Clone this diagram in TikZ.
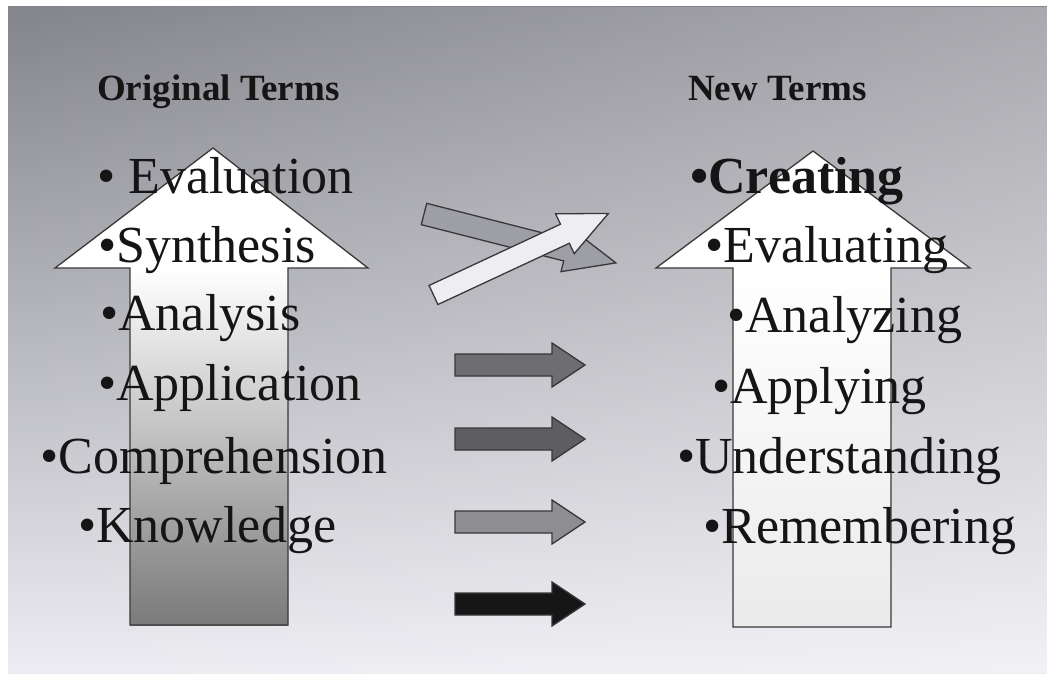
\documentclass[tikz,border=0pt]{standalone}
\usepackage{fontspec}
\setmainfont{Liberation Serif}
\usetikzlibrary{fadings}
\definecolor{bgtop}{HTML}{84848C}
\definecolor{bgmid}{HTML}{B6B6BE}
\definecolor{bgbot}{HTML}{ECECF2}
\definecolor{diaggray}{HTML}{9E9EA6}
\definecolor{diagwhite}{HTML}{EEEEF2}
\definecolor{arrA}{HTML}{6E6E72}
\definecolor{arrB}{HTML}{5E5E62}
\definecolor{arrC}{HTML}{8E8E92}
\definecolor{arrD}{HTML}{161616}
\definecolor{inktext}{HTML}{151515}
\begin{document}
\begin{tikzpicture}[x=1pt,y=-1pt,line join=miter,
  outl/.style={draw=black!78,line width=1.3pt},
  item/.style={anchor=base west,inner sep=0pt,font=\fontsize{52}{60}\selectfont,text=inktext},
  headtext/.style={anchor=base west,inner sep=0pt,font=\fontsize{37}{44}\selectfont\bfseries,text=inktext},
  harrowshape/.pic={\path[pic actions] (0,-11) -- (97,-11) -- (97,-22) -- (130,0) -- (97,22) -- (97,11) -- (0,11) -- cycle;}]
\useasboundingbox (0,0) rectangle (1047,673);
\fill[white] (0,0) rectangle (1047,673);
% background
\shade[top color=bgtop,middle color=bgmid,bottom color=bgbot] (8,6) rectangle (1047,673);
\fill[white,path fading=west,fill opacity=0.3] (8,6) rectangle (1047,673);

% left big arrow
\fill[white] (55,268) -- (213,148) -- (368,268) -- cycle;
\shade[top color=white,bottom color=black!52] (130,268) rectangle (288,625);
\draw[outl] (130,625) -- (130,268) -- (55,268) -- (213,148) -- (368,268) -- (288,268) -- (288,625) -- cycle;

% right big arrow
\fill[white] (656,268) -- (813,151) -- (970,268) -- cycle;
\shade[top color=white,bottom color=black!8] (733,268) rectangle (891,627);
\draw[outl] (733,627) -- (733,268) -- (656,268) -- (813,151) -- (970,268) -- (891,268) -- (891,627) -- cycle;

% diagonal arrows
\begin{scope}[shift={(424,214)},rotate=-14.3]
  \draw[outl,fill=diaggray] (0,-11) -- (147,-11) -- (147,-22) -- (198,0) -- (147,22) -- (147,11) -- (0,11) -- cycle;
\end{scope}
\begin{scope}[shift={(433.5,295)},rotate=25]
  \draw[outl,fill=diagwhite] (0,-10.5) -- (145,-10.5) -- (145,-22) -- (193,0) -- (145,22) -- (145,10.5) -- (0,10.5) -- cycle;
\end{scope}

% horizontal arrows
\pic[outl,fill=arrA] at (455,365) {harrowshape};
\pic[outl,fill=arrB] at (455,439) {harrowshape};
\pic[outl,fill=arrC] at (455,522) {harrowshape};
\pic[outl,fill=arrD] at (455,604) {harrowshape};

% headings
\node[headtext] (orig) at (97,100) {Original Terms};
\node[headtext] (new) at (688,100) {New Terms};

% left list
\node[item] (evaluation) at (97,193) {• Evaluation};
\node[item] (synthesis) at (98,262) {•Synthesis};
\node[item] (analysis) at (100,330) {•Analysis};
\node[item] (application) at (98,400) {•Application};
\node[item] (comprehension) at (40,473) {•Comprehension};
\node[item] (knowledge) at (78,542) {•Knowledge};

% right list
\node[item,font=\fontsize{52}{60}\selectfont\bfseries] (creating) at (690,193) {•Creating};
\node[item] (evaluating) at (705,262) {•Evaluating};
\node[item] (analyzing) at (727,332) {•Analyzing};
\node[item] (applying) at (712,403) {•Applying};
\node[item] (understanding) at (677,473) {•Understanding};
\node[item] (remembering) at (703,543) {•Remembering};
\end{tikzpicture}
\end{document}
